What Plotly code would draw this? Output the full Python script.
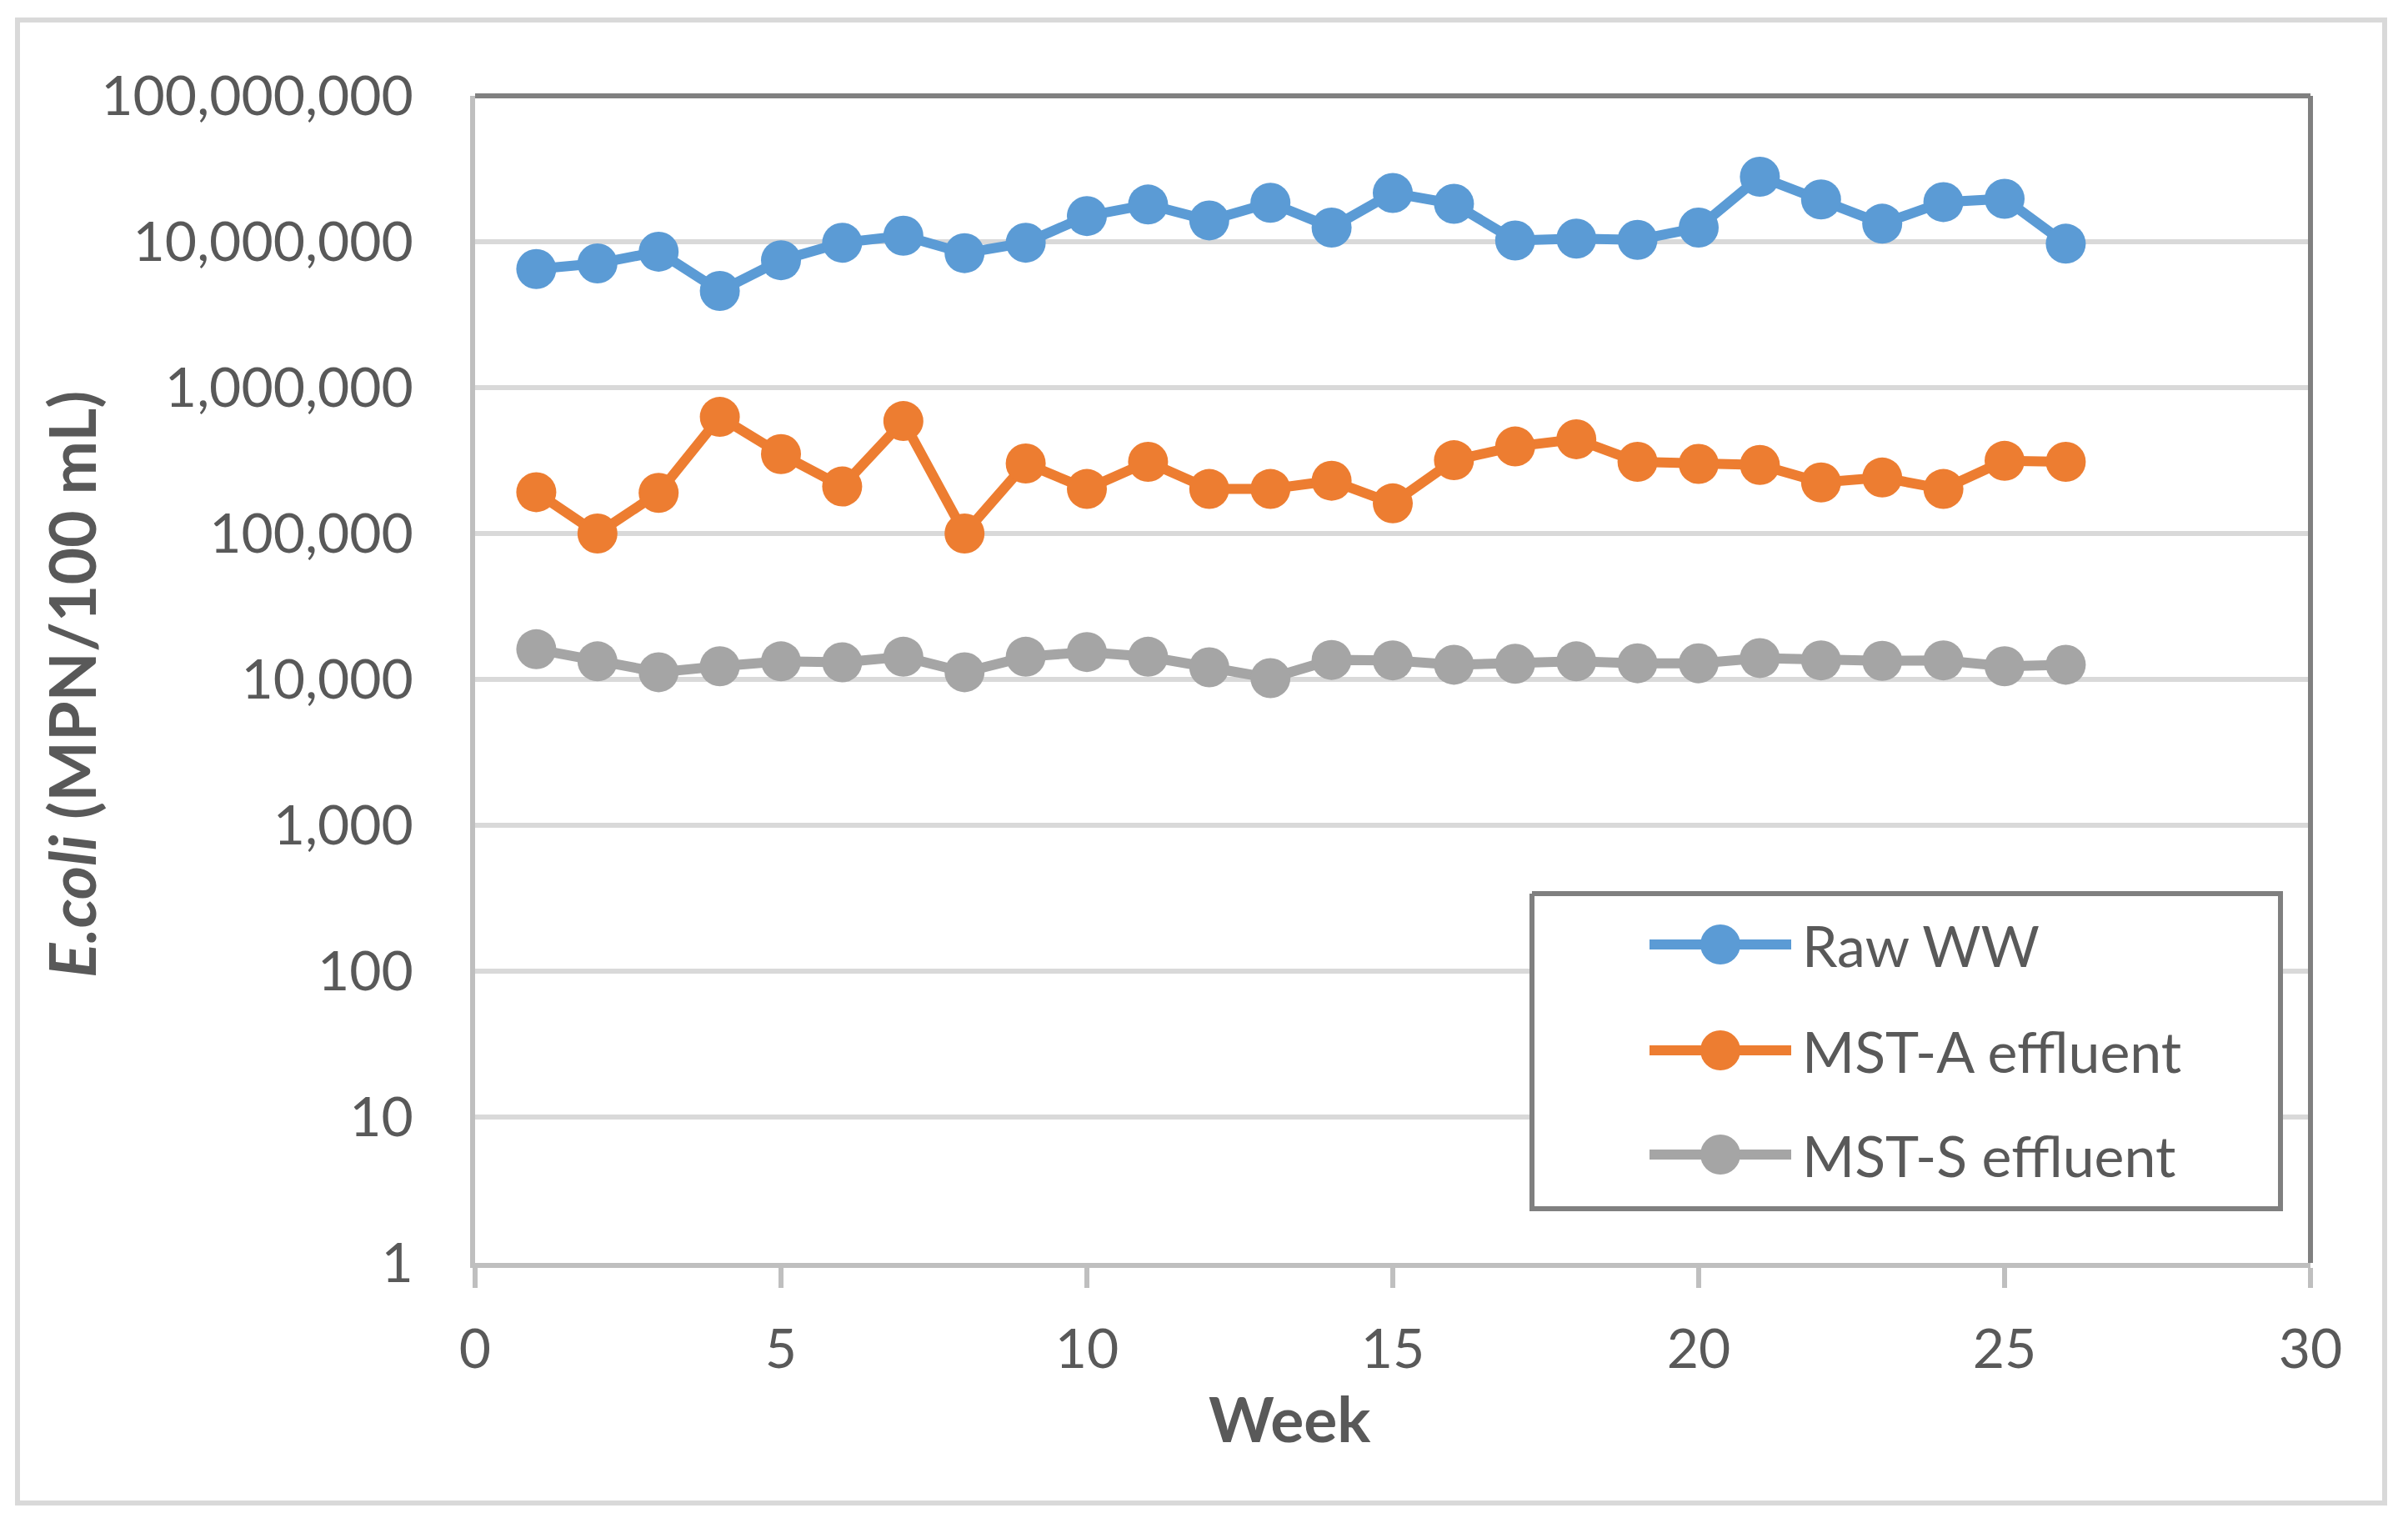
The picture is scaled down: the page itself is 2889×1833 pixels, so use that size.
import plotly.graph_objects as go

# ---------------- data ----------------
weeks = list(range(1, 27))
raw_ww = [6.5e6, 7.1e6, 8.55e6, 4.6e6, 7.47e6, 9.85e6, 1.1e7, 8.35e6, 9.85e6, 1.5e7,
          1.8e7, 1.4e7, 1.85e7, 1.25e7, 2.16e7, 1.82e7, 1.02e7, 1.05e7, 1.03e7, 1.25e7,
          2.79e7, 1.95e7, 1.33e7, 1.87e7, 1.97e7, 9.7e6]
mst_a = [1.92e5, 1.0e5, 1.9e5, 6.3e5, 3.5e5, 2.1e5, 5.9e5, 1.0e5, 3.02e5, 2.02e5,
         3.1e5, 2.02e5, 2.02e5, 2.3e5, 1.61e5, 3.18e5, 3.95e5, 4.43e5, 3.1e5, 3.0e5,
         2.95e5, 2.24e5, 2.42e5, 2.02e5, 3.15e5, 3.1e5]
mst_s = [1.61e4, 1.33e4, 1.12e4, 1.23e4, 1.33e4, 1.31e4, 1.43e4, 1.12e4, 1.43e4, 1.54e4,
         1.43e4, 1.21e4, 1.02e4, 1.36e4, 1.35e4, 1.26e4, 1.28e4, 1.33e4, 1.29e4, 1.29e4,
         1.4e4, 1.35e4, 1.34e4, 1.35e4, 1.23e4, 1.26e4]
series_names = ["Raw WW", "MST-A effluent", "MST-S effluent"]
y_tick_vals = [1, 10, 100, 1000, 10000, 100000, 1000000, 10000000, 100000000]
y_tick_text = ["1", "10", "100", "1,000", "10,000", "100,000", "1,000,000",
               "10,000,000", "100,000,000"]
x_tick_vals = [0, 5, 10, 15, 20, 25, 30]

# ---------------- style / layout ----------------
W, H = 2889, 1833
PL, PR, PT, PB = 570, 2772, 115, 1515          # plot area in pixels
colors = ["#5B9BD5", "#ED7D31", "#A5A5A5"]
FONT = "Lato"
TXT = "#595959"
LINE_W = 12
MARK = 48


def px_x(p):
    return (p - PL) / (PR - PL)


def px_y(p):
    return (PB - p) / (PB - PT)


fig = go.Figure()
for name, vals, c in zip(series_names, [raw_ww, mst_a, mst_s], colors):
    fig.add_trace(go.Scatter(
        x=weeks, y=vals, name=name, mode="lines+markers",
        line=dict(color=c, width=LINE_W),
        marker=dict(color=c, size=MARK, line=dict(width=0)),
        showlegend=False, cliponaxis=False,
    ))

# custom legend (drawn on an overlay axis in pixel units)
leg_box = (1838, 1072, 2736, 1450)
leg_rows = [1133, 1260, 1385]
leg_line = (1979, 2149)
leg_text_x = 2160
fig.add_trace(go.Scatter(
    x=[leg_box[0], leg_box[2], leg_box[2], leg_box[0], leg_box[0]],
    y=[leg_box[1], leg_box[1], leg_box[3], leg_box[3], leg_box[1]],
    xaxis="x2", yaxis="y2", mode="lines", fill="toself", fillcolor="white",
    line=dict(color="#808080", width=6), showlegend=False, hoverinfo="skip",
))
for name, c, yrow in zip(series_names, colors, leg_rows):
    fig.add_trace(go.Scatter(
        x=[leg_line[0], leg_line[1]], y=[yrow, yrow], xaxis="x2", yaxis="y2",
        mode="lines", line=dict(color=c, width=LINE_W),
        showlegend=False, hoverinfo="skip",
    ))
    fig.add_trace(go.Scatter(
        x=[(leg_line[0] + leg_line[1]) / 2], y=[yrow], xaxis="x2", yaxis="y2",
        mode="markers", marker=dict(color=c, size=MARK, line=dict(width=0)),
        showlegend=False, hoverinfo="skip",
    ))
    fig.add_annotation(x=leg_text_x, y=yrow, xref="x2", yref="y2", text=name,
                       showarrow=False, xanchor="left", yanchor="middle",
                       font=dict(family=FONT, size=68, color=TXT))

shapes = [
    # outer chart border
    dict(type="rect", xref="paper", yref="paper",
         x0=px_x(21), x1=px_x(2861), y0=px_y(1803), y1=px_y(24),
         line=dict(color="#D9D9D9", width=6), layer="above"),
    # plot area border top & right
    dict(type="line", xref="paper", yref="paper", x0=0, x1=1, y0=1, y1=1,
         line=dict(color="#808080", width=6), layer="above"),
    dict(type="line", xref="paper", yref="paper", x0=1, x1=1, y0=0, y1=1,
         line=dict(color="#808080", width=6), layer="above"),
]

annotations = [
    dict(x=px_x(1547), y=px_y(1701), xref="paper", yref="paper", text="<b>Week</b>",
         showarrow=False, xanchor="center", yanchor="middle",
         font=dict(family=FONT, size=75, color=TXT)),
    dict(x=px_x(85), y=px_y(821), xref="paper", yref="paper",
         text="<b><i>E.coli</i> (MPN/100 mL)</b>", textangle=-90,
         showarrow=False, xanchor="center", yanchor="middle",
         font=dict(family=FONT, size=77, color=TXT)),
]

fig.update_layout(
    width=W, height=H, autosize=False,
    margin=dict(l=PL, r=W - PR, t=PT, b=H - PB, pad=0),
    paper_bgcolor="white", plot_bgcolor="white",
    font=dict(family=FONT, color=TXT),
    showlegend=False,
    xaxis=dict(range=[0, 30], tickvals=x_tick_vals, showgrid=False, zeroline=False,
               showline=True, linecolor="#BFBFBF", linewidth=6,
               ticks="outside", ticklen=24, tickwidth=6, tickcolor="#BFBFBF",
               tickfont=dict(family=FONT, size=66, color=TXT), ticklabelstandoff=17),
    yaxis=dict(type="log", range=[0, 8], tickvals=y_tick_vals, ticktext=y_tick_text,
               showgrid=True, gridcolor="#D9D9D9", gridwidth=6, zeroline=False,
               showline=True, linecolor="#BFBFBF", linewidth=6, ticks="",
               tickfont=dict(family=FONT, size=66, color=TXT), ticklabelstandoff=55),
    xaxis2=dict(domain=[0, 1], range=[PL, PR], overlaying="x", visible=False,
                fixedrange=True),
    yaxis2=dict(domain=[0, 1], range=[PB, PT], overlaying="y", visible=False,
                fixedrange=True),
    shapes=shapes,
    annotations=list(fig.layout.annotations) + annotations,
)

fig.write_html("out.html", config={"displayModeBar": False},
               post_script="document.body.style.margin='0';")
